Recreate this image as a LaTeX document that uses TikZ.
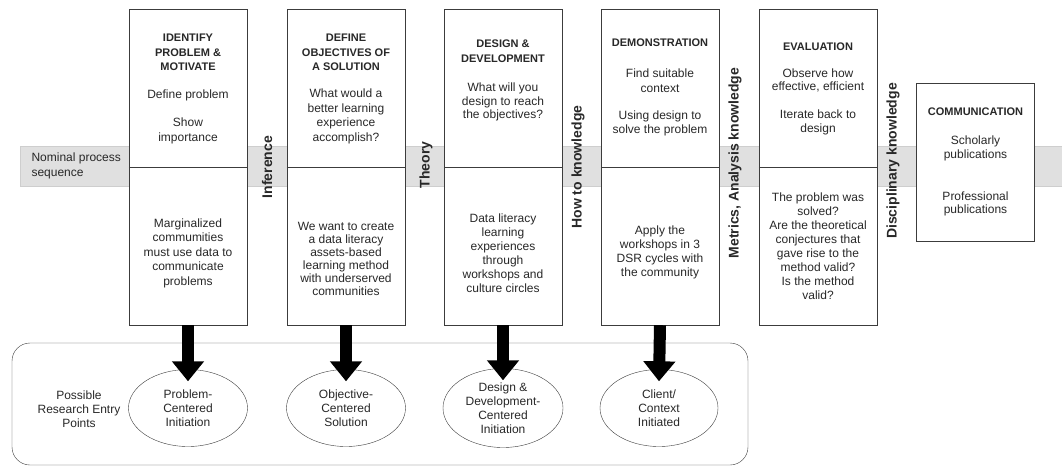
\documentclass[tikz,border=0pt]{standalone}
\usepackage{fontspec}
\setmainfont{Liberation Sans}
\usetikzlibrary{arrows.meta,positioning,shapes.geometric}
\definecolor{bandgray}{RGB}{224,224,224}
\definecolor{bandedge}{RGB}{206,206,206}
\definecolor{linegray}{RGB}{60,60,60}
\definecolor{textgray}{RGB}{40,40,40}

\begin{document}
\begin{tikzpicture}[x=1pt,y=-1pt,
      phase/.style={draw=linegray,fill=white,minimum width=118pt,minimum height=316pt,inner sep=0pt},
      headtxt/.style={font=\fontsize{11}{14.5}\selectfont\bfseries,text=textgray,align=center},
      celltxt/.style={font=\fontsize{12}{14.5}\selectfont,text=textgray,align=center},
      bridge/.style={font=\fontsize{14}{16}\selectfont\bfseries,text=textgray,rotate=90},
      entry/.style={ellipse,draw=linegray,fill=white,minimum width=119pt,minimum height=77pt,inner sep=0pt,
                    font=\fontsize{12}{14}\selectfont,text=textgray,align=center},
      bigarrow/.style={-{Triangle[width=31pt,length=20pt]},line width=12pt,black}
    ]
      \useasboundingbox (0,0) rectangle (1062,468);
      % Nominal process band
      \draw[bandedge,fill=bandgray] (20,146) rectangle (1062,186);
      \node[celltxt,align=left,anchor=west] (nominal) at (28,166) {Nominal process\\sequence};
      % Process phases
      \node[phase] (identify)   at (188,167) {};
      \node[phase] (objectives) at (346,167) {};
      \node[phase] (design)     at (503,167) {};
      \node[phase] (demo)       at (660,167) {};
      \node[phase] (evaluation) at (818,167) {};
      \node[phase,minimum height=158pt] (communication) at (975.5,162) {};
      \foreach \p in {identify,objectives,design,demo,evaluation}
        \draw[linegray] (\p.west) -- (\p.east);
      % Identify problem
      \node[headtxt] (identifyHead) at (188,52.5) {IDENTIFY\\PROBLEM \&\\MOTIVATE};
      \node[celltxt] (identifyA) at (188,95) {Define problem};
      \node[celltxt] (identifyB) at (188,131) {Show\\importance};
      \node[celltxt] (identifyLow) at (188,253) {Marginalized\\commumities\\must use data to\\communicate\\problems};
      % Objectives
      \node[headtxt] (objectivesHead) at (346,52.5) {DEFINE\\OBJECTIVES OF\\A SOLUTION};
      \node[celltxt] (objectivesA) at (346,116.5) {What would a\\better learning\\experience\\accomplish?};
      \node[celltxt,font=\fontsize{12}{13}\selectfont] (objectivesLow) at (346,259) {We want to create\\a data literacy\\assets-based\\learning method\\with underserved\\communities};
      % Design
      \node[headtxt] (designHead) at (503,51) {DESIGN \&\\DEVELOPMENT};
      \node[celltxt,font=\fontsize{12}{13.5}\selectfont] (designA) at (503,102) {What will you\\design to reach\\the objectives?};
      \node[celltxt,font=\fontsize{12}{14}\selectfont] (designLow) at (503,253) {Data literacy\\learning\\experiences\\through\\workshops and\\culture circles};
      % Demonstration
      \node[headtxt] (demoHead) at (660,43) {DEMONSTRATION};
      \node[celltxt,font=\fontsize{12}{15}\selectfont] (demoA) at (660,81) {Find suitable\\context};
      \node[celltxt,font=\fontsize{12}{14}\selectfont] (demoB) at (660,123.5) {Using design to\\solve the problem};
      \node[celltxt,font=\fontsize{12}{14}\selectfont] (demoLow) at (660,252) {Apply the\\workshops in 3\\DSR cycles with\\the community};
      % Evaluation
      \node[headtxt] (evaluationHead) at (818,47) {EVALUATION};
      \node[celltxt,font=\fontsize{12}{13.5}\selectfont] (evaluationA) at (818,80.5) {Observe how\\effective, efficient};
      \node[celltxt,font=\fontsize{12}{14}\selectfont] (evaluationB) at (818,122.5) {Iterate back to\\design};
      \node[celltxt,font=\fontsize{12}{14}\selectfont] (evaluationLow) at (818,246) {The problem was\\solved?\\Are the theoretical\\conjectures that\\gave rise to the\\method valid?\\Is the method\\valid?};
      % Communication
      \node[headtxt] (communicationHead) at (975.5,112) {COMMUNICATION};
      \node[celltxt,font=\fontsize{12}{13.5}\selectfont] (communicationA) at (975.5,148.5) {Scholarly\\publications};
      \node[celltxt,font=\fontsize{12}{13.5}\selectfont] (communicationB) at (975.5,204) {Professional\\publications};
      % Knowledge between phases
      \node[bridge] (inference)    at (267,167) {Inference};
      \node[bridge] (theory)       at (426,165) {Theory};
      \node[bridge] (howto)        at (578,167) {How to knowledge};
      \node[bridge] (metrics)      at (735,163) {Metrics, Analysis knowledge};
      \node[bridge] (disciplinary) at (893,161) {Disciplinary knowledge};
      % Research entry points
      \draw[linegray,rounded corners=18pt] (12,343) rectangle (748,465);
      \node[celltxt,font=\fontsize{12}{14}\selectfont] (possible) at (79,409) {Possible\\Research Entry\\Points};
      \node[entry] (problemEntry)   at (188,408) {Problem-\\Centered\\Initiation};
      \node[entry] (objectiveEntry) at (346,408) {Objective-\\Centered\\Solution};
      \node[entry,minimum width=120pt,minimum height=79pt] (designEntry) at (503,408) {Design \&\\Development-\\Centered\\Initiation};
      \node[entry,minimum width=118pt] (clientEntry) at (659,408) {Client/\\Context\\Initiated};
      \foreach \p/\e in {identify/problemEntry,objectives/objectiveEntry,design/designEntry,demo/clientEntry}
        \draw[bigarrow] (\p.south) -- ([yshift=-12pt]\e.north);
    \end{tikzpicture}
\end{document}
